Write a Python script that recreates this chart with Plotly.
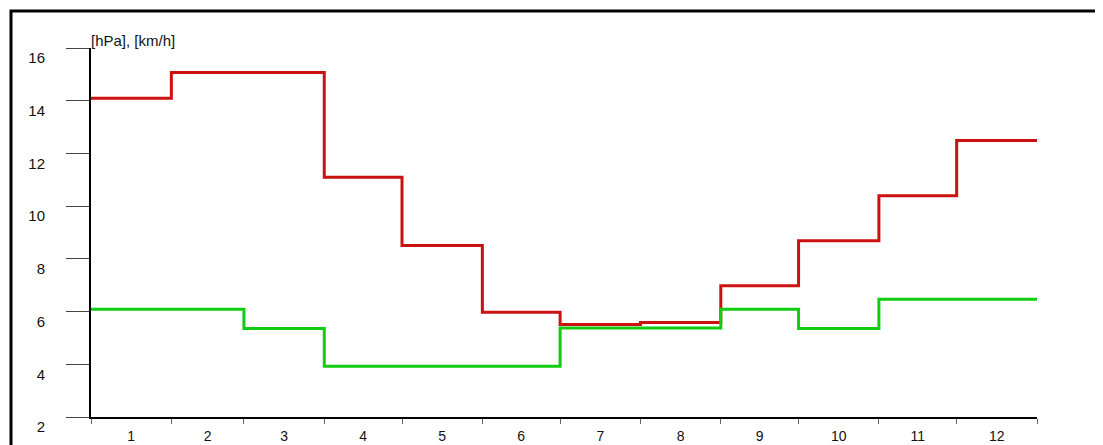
import plotly.graph_objects as go

# Month boundaries (non-leap year), values per month
month_starts = [f"2023-{m:02d}-01" for m in range(1, 13)] + ["2024-01-01"]
red_values = [14.09, 15.07, 15.07, 11.10, 8.51, 5.97, 5.51, 5.59, 6.98, 8.69, 10.39, 12.49]
green_values = [6.09, 6.09, 5.36, 3.93, 3.93, 3.93, 5.38, 5.38, 6.09, 5.36, 6.47, 6.47]
y_ticks = [2, 4, 6, 8, 10, 12, 14, 16]
unit_label = "[hPa], [km/h]"

# page body has an 8px margin; figure placed at (8, 8)
W, H = 1095, 437
ML, MT = 83, 40
PW, PH = 946, 368.7
MR = W - ML - PW
MB = H - MT - PH

fig = go.Figure()
fig.add_trace(go.Scatter(
    x=month_starts, y=red_values + [red_values[-1]], mode="lines",
    line=dict(color="#cc1111", width=3, shape="hv"), showlegend=False,
))
fig.add_trace(go.Scatter(
    x=month_starts, y=green_values + [green_values[-1]], mode="lines",
    line=dict(color="#11cc11", width=3, shape="hv"), showlegend=False,
))

font = dict(family="Liberation Sans, Arial, sans-serif", size=15, color="#111111")
xfont = dict(family="Liberation Sans, Arial, sans-serif", size=14, color="#111111")

fig.update_layout(
    width=W, height=H,
    margin=dict(l=ML, r=MR, t=MT, b=MB, pad=0, autoexpand=False),
    paper_bgcolor="white", plot_bgcolor="white",
    font=font,
    xaxis=dict(
        type="date", range=[month_starts[0], month_starts[-1]],
        dtick="M1", tick0="2023-01-01", ticklabelmode="period", tickformat="%-m",
        ticks="outside", ticklen=5, tickcolor="#666666", tickwidth=1,
        showline=True, linecolor="black", linewidth=2, automargin=False,
        showgrid=False, zeroline=False, tickfont=xfont,
    ),
    yaxis=dict(
        range=[2, 16], tickvals=y_ticks, ticktext=[str(v) for v in y_ticks],
        ticks="outside", ticklen=23, tickcolor="#444444", tickwidth=1,
        ticklabelshift=10, ticklabelstandoff=18, automargin=False,
        showline=True, linecolor="black", linewidth=2,
        showgrid=False, zeroline=False, tickfont=font,
    ),
    annotations=[dict(
        text=unit_label, xref="paper", yref="paper", x=0, y=1,
        xanchor="left", yanchor="bottom", showarrow=False, font=font,
        xshift=-2, yshift=-3,
    )],
    shapes=[dict(
        type="rect", xref="paper", yref="paper",
        x0=(3 - ML) / PW, x1=(W + 20 - ML) / PW,
        y0=(MT + PH - (H + 20)) / PH, y1=(MT + PH - 3) / PH,
        line=dict(color="black", width=3), fillcolor="rgba(0,0,0,0)", layer="above",
    )],
)

fig.write_html("out.html")
